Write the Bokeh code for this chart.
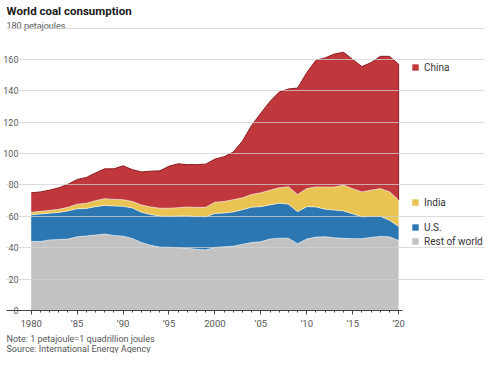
import numpy as np
from bokeh.plotting import figure
from bokeh.models import ColumnDataSource, FixedTicker, Legend, LegendItem, Label, Title
from bokeh.embed import file_html
from bokeh.resources import INLINE

years = list(range(1980, 2021))
rest_of_world = [44.0, 44.0, 45.0, 45.2, 45.5, 47.0, 47.5, 48.1, 48.7, 47.8,
                 47.4, 45.9, 43.3, 41.6, 40.4, 40.3, 40.0, 39.6, 39.0, 38.6,
                 40.2, 40.6, 41.0, 42.2, 43.3, 43.9, 45.5, 46.1, 46.1, 42.6,
                 45.5, 46.8, 47.0, 46.3, 46.0, 45.8, 45.8, 46.6, 47.2, 47.0, 44.6]
us = [17.0, 17.5, 17.0, 17.3, 18.0, 17.8, 17.5, 18.1, 18.3, 18.8,
      19.0, 19.5, 19.3, 19.6, 19.8, 19.7, 20.3, 20.7, 20.9, 21.2,
      21.6, 21.5, 21.8, 22.0, 22.5, 22.3, 21.8, 22.3, 21.7, 20.4,
      20.7, 19.2, 17.6, 17.7, 17.5, 15.8, 13.9, 13.4, 12.8, 10.5, 9.0]
india = [1.6, 1.7, 1.8, 2.0, 2.3, 3.0, 3.3, 3.8, 4.3, 4.2,
         4.2, 4.1, 4.7, 4.8, 5.0, 5.2, 5.2, 5.7, 5.8, 6.0,
         7.2, 7.4, 7.8, 7.6, 8.1, 8.8, 9.4, 9.8, 11.1, 10.9,
         11.5, 12.8, 14.1, 14.7, 16.4, 16.0, 15.9, 16.7, 17.7, 18.2, 16.8]
china = [12.4, 12.4, 12.9, 13.7, 14.6, 15.7, 16.5, 17.7, 19.0, 19.5,
         21.6, 20.3, 21.0, 22.8, 23.8, 26.8, 28.0, 27.0, 27.3, 27.5,
         27.5, 28.5, 30.4, 36.2, 44.1, 50.8, 56.6, 61.0, 62.3, 67.9,
         73.9, 80.7, 82.3, 84.8, 84.7, 82.4, 79.9, 81.3, 84.3, 86.3, 86.6]

series_names = ["Rest of world", "U.S.", "India", "China"]
colors = ["#c2c2c2", "#2c77b1", "#e9c452", "#c0383c"]
y_ticks = [0, 20, 40, 60, 80, 100, 120, 140, 160, 180]
x_major = [1980, 1985, 1990, 1995, 2000, 2005, 2010, 2015, 2020]
x_labels = ["1980", "\u201985", "\u201990", "\u201995", "2000", "\u201905", "\u201910", "\u201915", "\u201920"]

FONT = "Roboto"
X0, X1 = 1977.31, 2029.35
AXIS_END = 2020.43

src = ColumnDataSource(dict(year=years, row=rest_of_world, us=us, india=india, china=china))

p = figure(width=484, height=353, x_range=(X0, X1), y_range=(0, 197.6),
           output_backend="svg", toolbar_location=None,
           min_border_left=0, min_border_right=0, min_border_top=0, min_border_bottom=0)
p.outline_line_color = None
p.background_fill_color = "white"
p.border_fill_color = "white"

rends = p.varea_stack(["row", "us", "india", "china"], x="year", color=colors, source=src)

cum = np.cumsum(np.array([rest_of_world, us, india, china]), axis=0)
for k in range(3):
    p.line(years, cum[k], line_color="white", line_alpha=0.55, line_width=1)
p.line(years, cum[3], line_color="#8e1c20", line_width=1)
p.segment(x0=[years[-1]], y0=[cum[2][-1]], x1=[years[-1]], y1=[cum[3][-1]],
          line_color="#8e1c20", line_width=1)

# x axis
xa = p.xaxis[0]
xa.ticker = FixedTicker(ticks=x_major, minor_ticks=years)
xa.bounds = (X0, AXIS_END)
xa.major_label_overrides = {t: l for t, l in zip(x_major, x_labels)}
xa.axis_line_color = "#444444"
xa.major_tick_line_color = "#444444"
xa.minor_tick_line_color = "#444444"
xa.major_tick_out = 4
xa.major_tick_in = 0
xa.minor_tick_out = 2
xa.minor_tick_in = 0
xa.major_label_standoff = 3
xa.major_label_text_font = FONT
xa.major_label_text_font_size = "9.5px"
xa.major_label_text_color = "#555555"

# y axis
ya = p.yaxis[0]
ya.ticker = FixedTicker(ticks=y_ticks)
ya.major_label_overrides = {180: ""}
ya.axis_line_color = None
ya.major_tick_line_color = None
ya.minor_tick_line_color = None
ya.major_label_standoff = -18
ya.major_label_text_align = "right"
ya.major_label_text_baseline = "bottom"
ya.major_label_text_font = FONT
ya.major_label_text_font_size = "9px"
ya.major_label_text_color = "#555555"

p.xgrid.visible = False
p.ygrid.ticker = FixedTicker(ticks=y_ticks[1:])
p.ygrid.bounds = (X0, AXIS_END)
p.ygrid.grid_line_color = "#d2d2d2"
p.ygrid.grid_line_alpha = 0.75
p.ygrid.level = "overlay"

# legends (one per series, placed beside the end of each band)
leg_pos = [("Rest of world", 0, 69), ("U.S.", 1, 83), ("India", 2, 108), ("China", 3, 243)]
for name, idx, yc in leg_pos:
    leg = Legend(items=[LegendItem(label=name, renderers=[rends[idx]])],
                 location=(405, yc - 6), orientation="vertical",
                 glyph_width=8, glyph_height=8, label_height=12, label_standoff=5,
                 label_text_font=FONT, label_text_font_size="10px",
                 label_text_color="#333333", padding=0, margin=0, spacing=0,
                 border_line_color=None, background_fill_alpha=0)
    p.add_layout(leg)

title = Label(x=X0, y=191.0, text="World coal consumption", text_font=FONT,
              text_font_style="bold", text_font_size="11.5px", text_color="#1a1a1a",
              text_baseline="alphabetic")
unit = Label(x=X0, y=181.3, text="180 petajoules", text_font=FONT,
             text_font_size="9px", text_color="#555555", text_baseline="alphabetic")
p.add_layout(title)
p.add_layout(unit)

notes = Title(text="Note: 1 petajoule=1 quadrillion joules\nSource: International Energy Agency",
              align="left", text_font=FONT, text_font_style="normal", text_font_size="9px",
              text_color="#555555", standoff=0, offset=0)
p.add_layout(notes, "below")

open("out.html", "w").write(file_html(p, INLINE))
